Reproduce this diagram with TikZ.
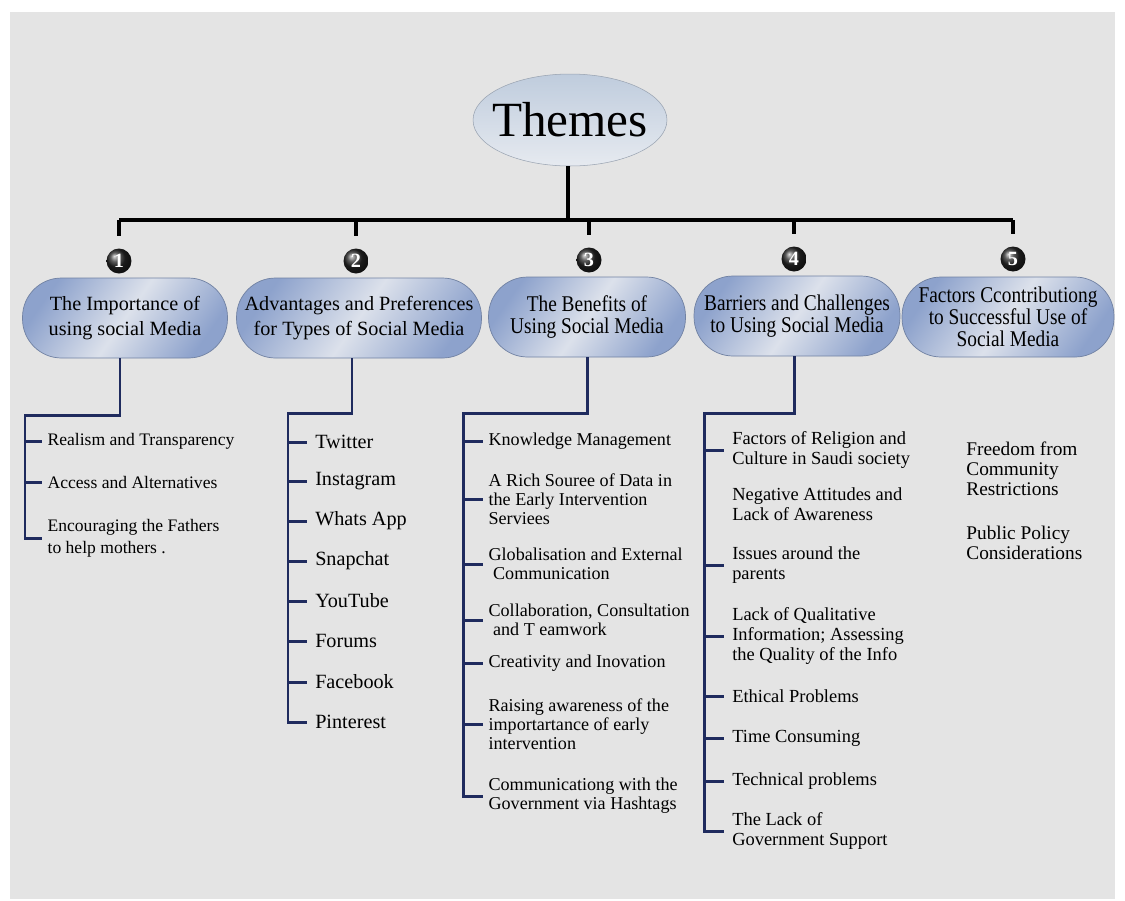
\documentclass[tikz,border=0pt]{standalone}
\usepackage{fontspec}
\setmainfont{Liberation Serif}
\newfontfamily\narrowserif[FakeStretch=0.86]{Liberation Serif}
\usepackage{tikz}
\usetikzlibrary{shapes.geometric,shapes.misc,backgrounds}

\definecolor{bggray}{HTML}{E4E4E4}
\definecolor{linknavy}{HTML}{1F2B5E}
\definecolor{pillblue}{HTML}{8DA2CC}
\definecolor{pilllight}{HTML}{DCE1EB}
\definecolor{themetop}{HTML}{BFCCDD}
\definecolor{themebot}{HTML}{E6EAF0}

\tikzset{
  tree/.style={line width=2.2pt,black},
  link/.style={line width=1.7pt,linknavy},
  pill/.style={rectangle,rounded corners=0.78cm,minimum height=1.6cm,align=center,
    draw=pillblue!80!black,line width=0.4pt,left color=pillblue,right color=pillblue,
    middle color=pilllight,shading angle=55,font=\fontsize{11.5}{14.5}\selectfont},
  narrowpill/.style={pill,font=\narrowserif\fontsize{12.8}{12.5}\selectfont},
  numball/.style={circle,minimum size=0.5cm,inner sep=0pt,shading=ball,ball color=black!85,
    text=white,font=\bfseries\fontsize{11.5}{11.5}\selectfont},
  item/.style={anchor=west,inner xsep=3pt,inner ysep=1pt,align=left}
}

\begin{document}
\begin{tikzpicture}[x=0.02cm,y=-0.02cm]
  \useasboundingbox (0,0) rectangle (1125,900);
  \fill[bggray] (10,12) rectangle (1115,899);

  % root
  \node[ellipse,minimum width=3.88cm,minimum height=1.84cm,inner xsep=-6pt,inner ysep=0pt,
    top color=themetop,bottom color=themebot,draw=themetop!80!black,line width=0.3pt,
    font=\fontsize{28}{28}\selectfont] (themes) at (570,120) {Themes};
  \coordinate (hub) at (568,220);

  % numbered balls
  \node[numball] (n1) at (119,261) {1};
  \node[numball] (n2) at (356,261) {2};
  \node[numball] (n3) at (589,260) {3};
  \node[numball] (n4) at (794,259) {4};
  \node[numball] (n5) at (1013,259) {5};

  % themes
  \node[pill,minimum width=4.1cm] (p1) at (125,318) {The Importance of\\using social Media};
  \node[pill,minimum width=4.9cm] (p2) at (359,318) {Advantages and Preferences\\for Types of Social Media};
  \node[narrowpill,minimum width=3.94cm] (p3) at (587,317) {The Benefits of\\Using Social Media};
  \node[narrowpill,minimum width=4.12cm] (p4) at (797,316) {Barriers and Challenges\\to Using Social Media};
  \node[narrowpill,minimum width=4.24cm] (p5) at (1008,317) {Factors Ccontributiong\\to Successful Use of\\Social Media};

  \draw[tree] (themes.south -| hub) -- (hub);
  \draw[tree] (hub -| n1) -- (hub -| n5);
  \foreach \n in {n1,n2,n3,n4,n5}
    \draw[tree,shorten >=7pt] (hub -| \n) -- (\n.north);

  % column 1
  \coordinate (s1) at (120,415);
  \coordinate (c1) at (25,415);
  \begin{scope}[every node/.style={item,font=\fontsize{10}{12.5}\selectfont}]
    \node (i11) at (42,441) {Realism and Transparency};
    \node (i12) at (42,482) {Access and Alternatives};
    \node (i13) at (42,538) {Encouraging the Fathers\\to help mothers .};
  \end{scope}

  % column 2
  \coordinate (s2) at (352,413);
  \coordinate (c2) at (288,413);
  \begin{scope}[every node/.style={item,inner xsep=4.5pt,font=\fontsize{11.5}{13}\selectfont}]
    \node (i21) at (307,442) {Twitter};
    \node (i22) at (307,481) {Instagram};
    \node (i23) at (307,521) {Whats App};
    \node (i24) at (307,561) {Snapchat};
    \node (i25) at (307,601) {YouTube};
    \node (i26) at (307,641) {Forums};
    \node (i27) at (307,682) {Facebook};
    \node (i28) at (307,722) {Pinterest};
  \end{scope}

  % column 3
  \coordinate (s3) at (587,413);
  \coordinate (c3) at (463,413);
  \begin{scope}[every node/.style={item,font=\fontsize{10.3}{10.8}\selectfont}]
    \node (i31) at (483,441) {Knowledge Management};
    \node (i32) at (483,499) {A Rich Souree of Data in\\the Early Intervention\\Serviees};
    \node (i33) at (483,564) {Globalisation and External\\\ Communication};
    \node (i34) at (483,620) {Collaboration, Consultation\\\ and T eamwork};
    \node (i35) at (483,663) {Creativity and Inovation};
    \node (i36) at (483,724) {Raising awareness of the\\importartance of early\\intervention};
    \node (i37) at (483,796) {Communicationg with the\\Government via Hashtags};
  \end{scope}

  % column 4
  \coordinate (s4) at (794,413);
  \coordinate (c4) at (704,413);
  \begin{scope}[every node/.style={item,inner xsep=4.5pt,font=\fontsize{10.5}{11.3}\selectfont}]
    \node (i41) at (724,450) {Factors of Religion and\\Culture in Saudi society};
    \node (i42) at (724,504) {Negative Attitudes and\\Lack of Awareness};
    \node (i43) at (724,565) {Issues around the\\parents};
    \node (i44) at (724,636) {Lack of Qualitative\\Information; Assessing\\the Quality of the Info};
    \node (i45) at (724,696) {Ethical Problems};
    \node (i46) at (724,738) {Time Consuming};
    \node (i47) at (724,781) {Technical problems};
    \node (i48) at (724,831) {The Lack of\\Government Support};
  \end{scope}

  % column 5
  \begin{scope}[every node/.style={item,inner xsep=0pt,font=\fontsize{11}{11.5}\selectfont}]
    \node (i51) at (966,469) {Freedom from\\Community\\Restrictions};
    \node (i52) at (966,543) {Public Policy\\Considerations};
  \end{scope}

  % links to items
  \draw[link] (s1 |- p1.south) -- (s1) -- (c1) -- (c1 |- i13.west) -- (i13.west);
  \draw[link] (s2 |- p2.south) -- (s2) -- (c2) -- (c2 |- i28.west) -- (i28.west);
  \draw[link] (s3 |- p3.south) -- (s3) -- (c3) -- (c3 |- i37.west) -- (i37.west);
  \draw[link] (s4 |- p4.south) -- (s4) -- (c4) -- (c4 |- i48.west) -- (i48.west);
  \foreach \n in {i11,i12}
    \draw[link] (c1 |- \n.west) -- (\n.west);
  \foreach \n in {i21,i22,i23,i24,i25,i26,i27}
    \draw[link] (c2 |- \n.west) -- (\n.west);
  \foreach \n in {i31,i32,i33,i34,i35,i36}
    \draw[link] (c3 |- \n.west) -- (\n.west);
  \foreach \n in {i41,i43,i44,i45,i46,i47}
    \draw[link] (c4 |- \n.west) -- (\n.west);
\end{tikzpicture}
\end{document}
